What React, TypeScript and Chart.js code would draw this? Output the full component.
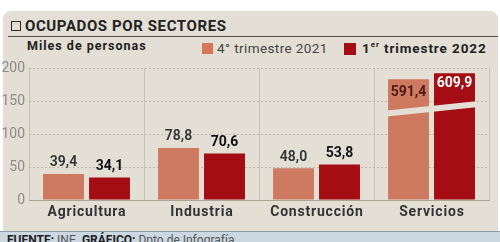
import React, { useEffect, useRef } from "react";
import { Chart, registerables } from "chart.js";

Chart.register(...registerables);

const categories = ["Agricultura", "Industria", "Construcción", "Servicios"];
const q4_2021 = [39.4, 78.8, 48.0, 591.4];
const q1_2022 = [34.1, 70.6, 53.8, 609.9];
const valueLabels0 = ["39,4", "78,8", "48,0", "591,4"];
const valueLabels1 = ["34,1", "70,6", "53,8", "609,9"];
const yTickValues = [0, 50, 100, 150, 200];
// Servicios exceeds the axis: its bars are drawn truncated with a break
const brokenIndex = 3;
const brokenTops = [183, 192];
const breakLeftValue = 131;
const breakRightValue = 145;

const PANEL_BG = "#e3dfd5";
const LIGHT = "#cd7a60";
const DARK = "#a30d13";
const FONT = "Roboto, 'DejaVu Sans', sans-serif";

const plotted0 = q4_2021.map((v, i) => (i === brokenIndex ? brokenTops[0] : v));
const plotted1 = q1_2022.map((v, i) => (i === brokenIndex ? brokenTops[1] : v));

const breakPlugin = {
  id: "breakAndLabels",
  afterDatasetsDraw(chart: any) {
    const ctx = chart.ctx;
    const y = chart.scales.y;
    const m0 = chart.getDatasetMeta(0);
    const m1 = chart.getDatasetMeta(1);
    const b0 = m0.data[brokenIndex];
    const b1 = m1.data[brokenIndex];
    const xl = b0.x - b0.width / 2 - 1;
    const xr = b1.x + b1.width / 2 + 1;
    const yl = y.getPixelForValue(breakLeftValue);
    const yr = y.getPixelForValue(breakRightValue);
    const half = 3;
    ctx.save();
    ctx.fillStyle = PANEL_BG;
    ctx.beginPath();
    ctx.moveTo(xl, yl - half);
    ctx.lineTo(xr, yr - half);
    ctx.lineTo(xr, yr + half);
    ctx.lineTo(xl, yl + half);
    ctx.closePath();
    ctx.fill();

    ctx.textAlign = "center";
    ctx.textBaseline = "middle";
    const metas = [m0, m1];
    const labels = [valueLabels0, valueLabels1];
    metas.forEach((meta: any, di: number) => {
      meta.data.forEach((bar: any, i: number) => {
        if (i === brokenIndex) {
          ctx.font = `bold 14px ${FONT}`;
          ctx.fillStyle = di === 0 ? "#4e1b14" : "#ffffff";
          ctx.fillText(labels[di][i], bar.x, bar.y + (di === 0 ? 13 : 10));
        } else {
          ctx.font = di === 0 ? `600 14px ${FONT}` : `bold 14px ${FONT}`;
          ctx.fillStyle = di === 0 ? "#333333" : "#111111";
          ctx.fillText(labels[di][i], bar.x, bar.y - 11);
        }
      });
    });

    // category labels (drawn with letter spacing)
    const xs = chart.scales.x;
    ctx.font = `bold 14px ${FONT}`;
    ctx.fillStyle = "#333333";
    (ctx as any).letterSpacing = "0.8px";
    categories.forEach((c, i) => {
      ctx.fillText(c, xs.getPixelForValue(i) + 0.4, xs.bottom - 10);
    });
    ctx.restore();
  },
};

export default function App() {
  const ref = useRef<HTMLCanvasElement | null>(null);
  useEffect(() => {
    document.body.style.margin = "0";
    if (!ref.current) return;
    const chart = new Chart(ref.current, {
      type: "bar",
      data: {
        labels: categories,
        datasets: [
          { label: "4° trimestre 2021", data: plotted0, backgroundColor: LIGHT, categoryPercentage: 0.8, barPercentage: 0.89 },
          { label: "1er trimestre 2022", data: plotted1, backgroundColor: DARK, categoryPercentage: 0.8, barPercentage: 0.89 },
        ],
      },
      options: {
        responsive: false,
        animation: false,
        layout: { padding: { top: 68, right: 11, left: 0, bottom: 20 } },
        plugins: { legend: { display: false }, tooltip: { enabled: false } },
        scales: {
          x: {
            afterFit(scale: any) {
              scale.height = 22;
            },
            grid: { offset: true, color: "#c7c2b5", drawTicks: false, lineWidth: 1 },
            border: { display: true, color: "#a9a693", width: 1 },
            ticks: { display: false },
          },
          y: {
            min: 0,
            max: 200,
            afterFit(scale: any) {
              scale.width = 29;
            },
            afterBuildTicks(scale: any) {
              scale.ticks = yTickValues.map((v) => ({ value: v }));
            },
            grid: { color: "#bcb7aa", drawTicks: false, lineWidth: 1 },
            border: { display: false, dash: [2, 2] },
            ticks: { color: "#8d8c86", font: { family: FONT, size: 14 }, padding: 4 },
          },
        },
      },
      plugins: [breakPlugin],
    });
    return () => chart.destroy();
  }, []);

  return (
    <div style={{ position: "relative", width: 500, height: 242, overflow: "hidden", background: "#ffffff", fontFamily: FONT }}>
      <div style={{ position: "absolute", left: 3, top: 11, width: 495, height: 231, background: PANEL_BG, borderTopLeftRadius: 8, borderTopRightRadius: 8 }} />
      <div style={{ position: "absolute", left: 11, top: 21, width: 8, height: 8, border: "1.5px solid #2a2a2a" }} />
      <div style={{ position: "absolute", left: 25, top: 16, fontSize: 15, fontWeight: "bold", color: "#222", lineHeight: "20px", letterSpacing: "0.6px", whiteSpace: "nowrap" }}>OCUPADOS POR SECTORES</div>
      <div style={{ position: "absolute", left: 8, top: 36, width: 490, height: 1, background: "#4a4a4a" }} />
      <div style={{ position: "absolute", left: 27, top: 38, fontSize: 12.5, fontWeight: "bold", color: "#222", lineHeight: "16px", letterSpacing: "1px", whiteSpace: "nowrap" }}>Miles de personas</div>
      <div style={{ position: "absolute", left: 202, top: 43, width: 11, height: 11, background: "#d6755a" }} />
      <div style={{ position: "absolute", left: 217, top: 40, fontSize: 13.5, color: "#444", lineHeight: "17px", letterSpacing: "0.4px", whiteSpace: "nowrap" }}>4° trimestre 2021</div>
      <div style={{ position: "absolute", left: 344, top: 43, width: 12, height: 12, background: DARK }} />
      <div style={{ position: "absolute", left: 362, top: 40, fontSize: 13.5, fontWeight: "bold", color: "#222", lineHeight: "17px", letterSpacing: "0.9px", whiteSpace: "nowrap" }}>
        1<sup style={{ fontSize: 8, verticalAlign: "top", lineHeight: "10px" }}>er</sup> trimestre 2022
      </div>
      <div style={{ position: "absolute", left: 0, top: 231, width: 500, height: 11, background: "#cbd8e2", borderTop: "1px solid #8c99a3" }} />
      <div style={{ position: "absolute", left: 7, top: 233, fontSize: 12, color: "#555", lineHeight: "14px", whiteSpace: "nowrap" }}>
        <b style={{ color: "#222" }}>FUENTE:</b> INE. <b style={{ color: "#222" }}>GRÁFICO:</b> Dpto de Infografía
      </div>
      <canvas ref={ref} width={500} height={242} style={{ position: "absolute", left: 0, top: 0, width: 500, height: 242 }} />
    </div>
  );
}
